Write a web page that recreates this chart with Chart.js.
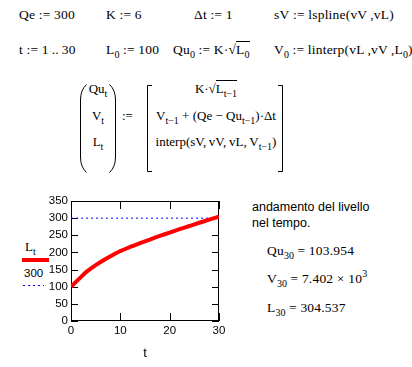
<!DOCTYPE html>
<html>
<head>
<meta charset="utf-8">
<script src="https://cdn.jsdelivr.net/npm/chart.js@4"></script>
<style>
  html, body { margin: 0; padding: 0; background: #fff; }
  #page { position: relative; width: 412px; height: 367px; overflow: hidden; }
  .m { position: absolute; white-space: nowrap; font-family: "Liberation Serif", serif; font-size: 13px; line-height: 16px; color: #000; }
  .w { font-size: 13.5px; letter-spacing: 0.2px; }
  .sans { position: absolute; white-space: nowrap; font-family: "Liberation Sans", Arial, sans-serif; font-size: 12.5px; line-height: 16px; color: #000; }
  .s { font-size: 10px; position: relative; top: 4px; letter-spacing: 0; }
  .sup { font-size: 10px; position: relative; top: -6px; }
  .ov { border-top: 1px solid #000; }
  .ctr { text-align: center; }
  #chartBox { position: absolute; left: 0; top: 190px; width: 240px; height: 177px; }
</style>
</head>
<body>
<div id="page">
  <!-- ligne 1 -->
  <div class="m w" style="left:19px; top:7px;">Qe&nbsp;:=&nbsp;300</div>
  <div class="m w" style="left:106px; top:7px;">K&nbsp;:=&nbsp;6</div>
  <div class="m w" style="left:194px; top:7px;">Δt&nbsp;:=&nbsp;1</div>
  <div class="m w" style="left:274px; top:7px;">sV&nbsp;:=&nbsp;lspline(vV&thinsp;,vL)</div>
  <!-- ligne 2 -->
  <div class="m w" style="left:19px; top:42px;">t&nbsp;:=&nbsp;1&thinsp;..&thinsp;30</div>
  <div class="m w" style="left:106px; top:42px;">L<span class="s">0</span>&nbsp;:=&nbsp;100</div>
  <div class="m w" style="left:173px; top:42px;">Qu<span class="s">0</span>&nbsp;:=&nbsp;K·√<span class="ov">L<span class="s">0</span></span></div>
  <div class="m w" style="left:274px; top:42px;">V<span class="s">0</span>&nbsp;:=&nbsp;linterp(vL&thinsp;,vV&thinsp;,L<span class="s">0</span>)</div>

  <!-- système matriciel -->
  <svg style="position:absolute; left:0; top:0;" width="412" height="190">
    <g fill="none" stroke="#000" stroke-width="1">
      <path d="M86.5,84.5 Q80.5,90 80.5,100 L80.5,157 Q80.5,167 86.5,172.5"/>
      <path d="M109.5,84.5 Q115.5,90 115.5,100 L115.5,157 Q115.5,167 109.5,172.5"/>
      <path d="M152,85.5 L147.5,85.5 L147.5,171.5 L152,171.5"/>
      <path d="M278,85.5 L282.5,85.5 L282.5,171.5 L278,171.5"/>
    </g>
  </svg>
  <div class="m ctr" style="left:84px; width:28px; top:81px;">Qu<span class="s">t</span></div>
  <div class="m ctr" style="left:84px; width:28px; top:108px;">V<span class="s">t</span></div>
  <div class="m ctr" style="left:84px; width:28px; top:134px;">L<span class="s">t</span></div>
  <div class="m" style="left:122px; top:108px;">:=</div>
  <div class="m ctr" style="left:151px; width:130px; top:81px;">K·√<span class="ov">L<span class="s">t−1</span></span></div>
  <div class="m ctr" style="left:151px; width:130px; top:108px;">V<span class="s">t−1</span> + (Qe − Qu<span class="s">t−1</span>)·Δt</div>
  <div class="m ctr" style="left:151px; width:130px; top:134px;">interp(sV,&thinsp;vV,&thinsp;vL,&thinsp;V<span class="s">t−1</span>)</div>

  <!-- légende du graphique -->
  <div class="m" style="left:25px; top:239px;">L<span class="s">t</span></div>
  <div style="position:absolute; left:22px; top:258px; width:27px; height:4px; background:#ff0000;"></div>
  <div class="sans" style="left:24px; top:265px; font-size:11.5px;">300</div>
  <div style="position:absolute; left:23px; top:285px; width:21px; height:1px; background:repeating-linear-gradient(to right, #0000ff 0 2px, transparent 2px 5px);"></div>

  <!-- commentaire et résultats -->
  <div class="sans" style="left:252px; top:199px;">andamento del livello</div>
  <div class="sans" style="left:252px; top:215px;">nel tempo.</div>
  <div class="m w" style="left:267px; top:243px;">Qu<span class="s">30</span> = 103.954</div>
  <div class="m w" style="left:267px; top:271px;">V<span class="s">30</span> = 7.402 × 10<span class="sup">3</span></div>
  <div class="m w" style="left:267px; top:300px;">L<span class="s">30</span> = 304.537</div>

  <div id="chartBox"><canvas id="levelChart"></canvas></div>
</div>

<script>
// ==================== DONNÉES ====================
const tValues = [0, 1, 2, 3, 4, 5, 6, 7, 8, 9, 10, 11, 12, 13, 14, 15, 16, 17, 18, 19, 20,
                 21, 22, 23, 24, 25, 26, 27, 28, 29, 30];
const levelL = [100, 114, 128, 142, 153, 163, 172, 181, 189, 197, 204, 210, 216, 221.5, 227, 232.5,
                237.5, 243, 248, 253, 258, 263, 268, 272.5, 277, 282, 286.5, 291, 295.5, 300.2, 304.5];
const refT = [0, 30];
const refLevel = [300, 300];
const xTickValues = [0, 10, 20, 30];
const yTickValues = [0, 50, 100, 150, 200, 250, 300, 350];

// ==================== CADRE ET TICKS INTÉRIEURS ====================
const framePlugin = {
    id: "frame",
    beforeDatasetsDraw(chart) {
        const { ctx, chartArea: a, scales: { x, y } } = chart;
        ctx.save();
        ctx.strokeStyle = "#000";
        ctx.lineWidth = 1;
        ctx.strokeRect(Math.round(a.left) + 0.5, Math.round(a.top) + 0.5,
                       Math.round(a.width) - 1, Math.round(a.height) - 1);
        ctx.beginPath();
        y.ticks.forEach(tk => {
            const py = Math.round(y.getPixelForValue(tk.value)) + 0.5;
            ctx.moveTo(a.left, py); ctx.lineTo(a.left + 7, py);
            ctx.moveTo(a.right - 7, py); ctx.lineTo(a.right, py);
        });
        x.ticks.forEach(tk => {
            const px = Math.round(x.getPixelForValue(tk.value)) + 0.5;
            ctx.moveTo(px, a.top); ctx.lineTo(px, a.top + 8);
            ctx.moveTo(px, a.bottom - 8); ctx.lineTo(px, a.bottom);
        });
        ctx.stroke();
        ctx.restore();
    }
};

const tickFont = { family: "'Liberation Sans', Arial, sans-serif", size: 11.5 };

new Chart(document.getElementById("levelChart"), {
    type: "line",
    data: {
        datasets: [
            {
                label: "Lt",
                data: tValues.map((t, i) => ({ x: t, y: levelL[i] })),
                borderColor: "#ff0000",
                borderWidth: 4,
                pointRadius: 0,
                tension: 0,
                order: 0
            },
            {
                label: "300",
                data: refT.map((t, i) => ({ x: t, y: refLevel[i] })),
                borderColor: "#0000ff",
                borderWidth: 1,
                borderDash: [2, 3],
                pointRadius: 0,
                order: 1
            }
        ]
    },
    options: {
        responsive: true,
        maintainAspectRatio: false,
        animation: false,
        devicePixelRatio: 1,
        layout: { padding: { top: 11, right: 21, left: 0, bottom: 0 } },
        plugins: { legend: { display: false }, tooltip: { enabled: false } },
        scales: {
            x: {
                type: "linear",
                min: 0,
                max: 30,
                afterBuildTicks: s => { s.ticks = xTickValues.map(v => ({ value: v })); },
                afterFit: s => { s.height = 46; },
                grid: { display: false, drawTicks: false },
                border: { display: false },
                ticks: { color: "#000", font: tickFont, padding: 3, maxRotation: 0 },
                title: {
                    display: true,
                    text: "t",
                    color: "#000",
                    font: { family: "'Liberation Sans', Arial, sans-serif", size: 13 },
                    padding: { top: 0, bottom: 6 }
                }
            },
            y: {
                min: 0,
                max: 350,
                afterBuildTicks: s => { s.ticks = yTickValues.map(v => ({ value: v })); },
                afterFit: s => { s.width = 71; },
                grid: { display: false, drawTicks: false },
                border: { display: false },
                ticks: { color: "#000", font: tickFont, padding: 3 }
            }
        }
    },
    plugins: [framePlugin]
});
</script>
</body>
</html>
